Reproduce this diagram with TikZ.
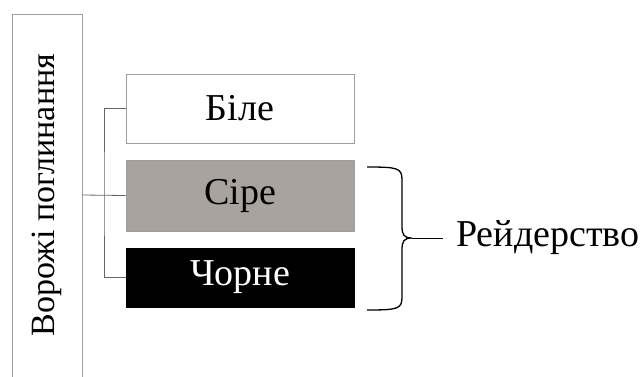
\documentclass[tikz,border=0pt]{standalone}
\usepackage{fontspec}
\setmainfont{Liberation Serif}
\begin{document}
\begin{tikzpicture}[x=1pt,y=-1pt,
  kind/.style={draw=black!38, line width=0.8pt, minimum width=228pt, minimum height=69pt,
    inner sep=0pt, font=\fontsize{38}{42}\selectfont},
  link/.style={draw=black!60, line width=0.8pt},
  bracket/.style={draw=black, line width=1.3pt}]
\useasboundingbox (0,0) rectangle (640,376);
\begin{scope}
\clip (0,0) rectangle (640,376);
% side panel, open at the lower edge
\node[draw=black!38, line width=0.8pt, minimum width=70pt, minimum height=380pt, inner sep=0pt]
  (panel) at (47,204) {};
\end{scope}
\node[rotate=90, font=\fontsize{34}{40}\selectfont] (paneltext) at (47,195) {Ворожі поглинання};

% the three kinds
\node[kind, fill=white] (bile) at (240,108.5) {Біле};
\node[kind, fill=black!35!white!92!brown, minimum height=71pt] (sire) at (240,195.5) {Сіре};
\node[kind, draw=black, fill=black, text=white, minimum height=59pt] (chorne) at (240,277.5) {Чорне};

% tree connectors
\coordinate (fork) at (104,195);
\draw[link] (panel.east |- fork) -- (sire.west);
\draw[link] (bile.west) -| (fork) |- (chorne.west);

% brace over the grey and black kinds
\coordinate (tip) at (412,238);
\draw[bracket] (367,167) .. controls (398,167) and (402,168) .. (402,180) -- (402,226)
  .. controls (402,235) and (404,238) .. (tip)
  .. controls (404,238) and (402,241) .. (402,250) -- (402,297)
  .. controls (402,309) and (398,310) .. (367,310);
\node[anchor=west, font=\fontsize{38}{42}\selectfont, inner sep=0pt] (raid) at (456,238) {Рейдерство};
\draw[bracket, line width=1pt] (tip) -- (raid.west -| 443,0);
\end{tikzpicture}
\end{document}
